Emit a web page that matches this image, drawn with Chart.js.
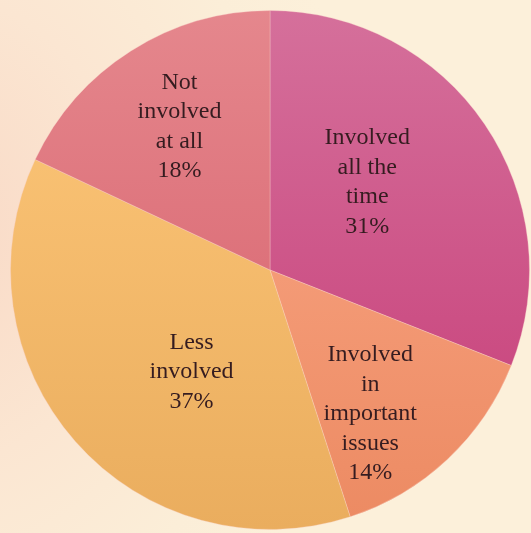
<!DOCTYPE html>
<html>
<head>
<meta charset="utf-8">
<script src="https://cdn.jsdelivr.net/npm/chart.js@4"></script>
<style>
  html, body { margin: 0; padding: 0; }
  body {
    width: 531px; height: 533px; overflow: hidden;
    background: radial-gradient(ellipse 420px 520px at -60px 230px, #f9d9c6 0%, #fbe6d2 45%, #fbeed8 80%, #fcf0da 100%);
  }
  #wrap { position: relative; width: 540px; height: 540px; }
</style>
</head>
<body>
<div id="wrap"><canvas id="myChart" width="540" height="540"></canvas></div>
<script>
// Datos del gráfico
const categorias = [
    ["Involved", "all the", "time"],
    ["Involved", "in", "important", "issues"],
    ["Less", "involved"],
    ["Not", "involved", "at all"]
];
const porcentajes = [31, 14, 37, 18];

// Colores (arriba / abajo de cada gradiente)
const coloresArriba = ["#d5709b", "#fcab8b", "#fec87a", "#e5878d"];
const coloresAbajo = ["#c63a76", "#ec8a62", "#eaad5e", "#d55c68"];

// Ubicación de etiquetas: [desplazamiento de ángulo en grados, fracción de radio]
const posEtiquetas = [[-8.5, 0.51], [8, 0.67], [-10.5, 0.49], [0.5, 0.66]];

const ctxCanvas = document.querySelector("#myChart");

function gradiente(context) {
    const chart = context.chart;
    const area = chart.chartArea;
    if (!area) return coloresArriba[context.dataIndex];
    const g = chart.ctx.createLinearGradient(0, area.top, 0, area.bottom);
    g.addColorStop(0, coloresArriba[context.dataIndex]);
    g.addColorStop(1, coloresAbajo[context.dataIndex]);
    return g;
}

// Plugin para dibujar las etiquetas dentro de cada porción
const pluginEtiquetas = {
    id: 'etiquetasPie',
    afterDatasetsDraw: (chart) => {
        const {ctx} = chart;
        const meta = chart.getDatasetMeta(0);
        ctx.save();
        ctx.font = '24px "Liberation Serif"';
        ctx.fillStyle = '#351c20';
        ctx.textAlign = 'center';
        ctx.textBaseline = 'middle';
        const alto = 29.5;
        meta.data.forEach((arc, i) => {
            const p = arc.getProps(['x', 'y', 'startAngle', 'endAngle', 'outerRadius'], true);
            const ang = (p.startAngle + p.endAngle) / 2 + posEtiquetas[i][0] * Math.PI / 180;
            const r = p.outerRadius * posEtiquetas[i][1];
            const cx = p.x + Math.cos(ang) * r;
            const cy = p.y + Math.sin(ang) * r + 2;
            const lineas = categorias[i].concat([porcentajes[i] + "%"]);
            const y0 = cy - (lineas.length - 1) * alto / 2;
            lineas.forEach((t, j) => ctx.fillText(t, cx, y0 + j * alto));
        });
        ctx.restore();
    }
};

const config = {
    type: "pie",
    data: {
        labels: categorias.map(c => c.join(" ")),
        datasets: [{
            data: porcentajes,
            backgroundColor: gradiente,
            borderColor: "rgba(250,210,200,0.35)",
            borderWidth: 1
        }]
    },
    options: {
        responsive: false,
        animation: false,
        layout: { padding: 10 },
        plugins: {
            legend: { display: false },
            tooltip: { enabled: false }
        }
    },
    plugins: [pluginEtiquetas]
};

const miChart = new Chart(ctxCanvas, config);
</script>
</body>
</html>
